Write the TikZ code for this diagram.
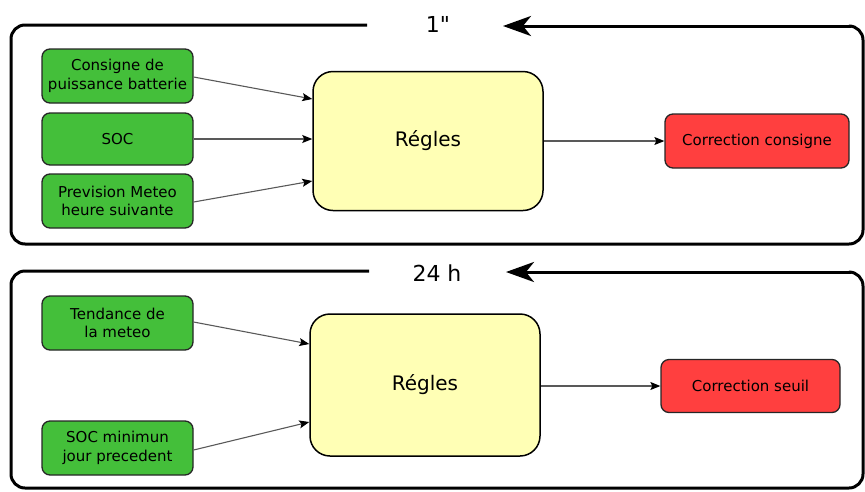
\documentclass[tikz,border=0pt]{standalone}
\usepackage{fontspec}
\setmainfont{DejaVu Sans}
\newfontfamily\plainfont{DejaVu Sans}
\usetikzlibrary{arrows.meta}
\definecolor{gfill}{HTML}{44BF3A}
\definecolor{rfill}{HTML}{FF3F3F}
\definecolor{yfill}{HTML}{FFFFB5}
\tikzset{
  inbox/.style={draw=black!85, line width=1.3pt, fill=gfill, rounded corners=8pt, align=center, font=\fontsize{15}{18.5}\selectfont, inner sep=0pt},
  rulebox/.style={draw=black, line width=1.5pt, fill=yfill, rounded corners=20pt, font=\fontsize{20}{23}\selectfont, inner sep=0pt},
  outbox/.style={draw=black!85, line width=1.3pt, fill=rfill, rounded corners=8pt, font=\fontsize{15}{18}\selectfont, inner sep=0pt},
  conn/.style={draw=black!65, line width=1.1pt, -{Stealth[length=10pt,width=8pt,inset=2pt,black]}},
  frame/.style={line width=3pt, black, rounded corners=14pt},
  loopar/.style={line width=3pt, black, -{Stealth[length=28pt,width=20pt,inset=8pt]}},
  tlabel/.style={font=\plainfont\fontsize{22}{24}\selectfont, inner sep=0pt},
}
\begin{document}
\begin{tikzpicture}[x=1pt,y=-1pt]
\useasboundingbox (0,0) rectangle (865,491);
% ---------- top panel ----------
\coordinate (tA) at (367,25);
\coordinate (tC) at (503,26);
\draw[frame] (tA) -- (11,25) -- (11,244) -- (863,244) -- (863,26) -- (850,26);
\draw[loopar] (851,26) -- (tC);
\node[tlabel] (t1) at (438,24) {1"};
\node[inbox, minimum width=151pt, minimum height=54pt] (c1) at (117.5,76) {Consigne de\\puissance batterie};
\node[inbox, minimum width=151pt, minimum height=52pt] (c2) at (117.5,139) {SOC};
\node[inbox, minimum width=151pt, minimum height=54pt] (c3) at (117.5,201) {Prevision Meteo\\heure suivante};
\node[rulebox, minimum width=230pt, minimum height=139pt] (r1) at (428,141) {Régles};
\node[outbox, minimum width=184pt, minimum height=54pt] (o1) at (757,141) {Correction consigne};
\draw[conn] (c1.east |- 0,77) -- (r1.west |- 0,99);
\draw[conn] (c2.east) -- (r1.west |- c2.east);
\draw[conn] (c3.east |- 0,202) -- (r1.west |- 0,181);
\draw[conn] (r1.east) -- (o1.west);
% ---------- bottom panel ----------
\coordinate (bA) at (369,271);
\coordinate (bC) at (506,272);
\draw[frame] (bA) -- (11,271) -- (11,488) -- (863,488) -- (863,272) -- (850,272);
\draw[loopar] (851,272) -- (bC);
\node[tlabel] (t2) at (437,273) {24 h};
\node[inbox, minimum width=151pt, minimum height=54pt] (d1) at (117.5,323) {Tendance de\\la meteo};
\node[inbox, minimum width=151pt, minimum height=54pt] (d2) at (117.5,448) {SOC minimun\\jour precedent};
\node[rulebox, minimum width=230pt, minimum height=142pt] (r2) at (425,385) {Régles};
\node[outbox, minimum width=179pt, minimum height=53pt] (o2) at (750.5,386) {Correction seuil};
\draw[conn] (d1.east |- 0,322) -- (r2.west |- 0,344);
\draw[conn] (d2.east |- 0,450) -- (r2.west |- 0,422);
\draw[conn] (r2.east |- o2.west) -- (o2.west);
\end{tikzpicture}
\end{document}
